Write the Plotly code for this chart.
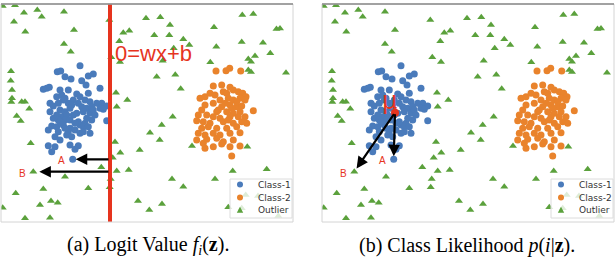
import plotly.graph_objects as go

# ---------------- data (panel coordinates, y grows downward) ----------------
class1_x = [80, 57.3, 60.7, 65, 71, 81.7, 88.3, 93.3, 86, 46.7, 49.3, 43.3, 60, 68.3, 100, 76.7, 80, 88.3,
            56.7, 61.7, 65, 73.3, 50, 53.3, 58.3, 68.3, 71.7, 85, 90, 96.7, 101.7, 106.7, 81.7, 86.7, 91.7,
            60, 65, 70, 100, 103.3, 50, 56.7, 61.7, 66.7, 73.3, 83.3, 90, 53.3, 58.3, 65, 78.3, 85, 91.7,
            106.7, 51.7, 56.7, 63.3, 70, 80, 83.3, 88.3, 48.3, 58.3, 68.3, 75, 80, 90, 55, 66.7, 71.7, 60,
            48.3, 55, 70, 78.3, 51.7, 75, 72.7,
            63.3, 78.3, 93.3, 76.7, 70, 75, 86.7, 60, 95, 65, 83.3]
class1_y = [65.7, 71.7, 71, 76.7, 79, 80.7, 76, 74, 85, 88.3, 87.3, 89.3, 90, 90, 88.3, 94, 96.7, 93.3,
            96.7, 95, 98.3, 100, 103.3, 106, 103.3, 103.3, 105, 100, 101.7, 103.3, 103.3, 106, 106.7, 108.3,
            106.7, 110, 111.7, 108.3, 108.3, 109.3, 111.7, 115, 116.7, 115, 115, 111.7, 113.3, 118.3, 120,
            120, 121.7, 123.3, 120, 120.7, 126, 126.7, 125, 128.3, 125, 126.7, 126.7, 130, 131.7, 131.7, 130,
            133.3, 133.3, 136.7, 135, 136.7, 140, 145.7, 146.7, 145, 145.7, 151.7, 149.3, 159.3,
            100, 103.3, 110, 113.3, 120, 123.3, 118.3, 121.7, 115, 128.3, 131.7]

class2_x = [216, 226, 229.7, 240.7, 221.7, 230, 213.3, 200, 205, 210, 215, 223.3, 226.7, 233.3, 238.3,
            242.7, 246, 220, 228.3, 233.3, 240, 245, 205, 213.3, 221.7, 230, 236.7, 241.7, 201.7, 216.7,
            226.7, 233.3, 240, 253.3, 198.3, 206.7, 213.3, 220, 230, 238.3, 245, 196.7, 203.3, 210, 223.3,
            233.3, 241.7, 246.7, 201.7, 208.3, 216.7, 226.7, 236.7, 198.3, 205, 213.3, 220, 230, 240, 196.7,
            206.7, 216.7, 223.3, 233.3, 205, 213.3, 221.7, 230, 240, 231.7, 203.3,
            225, 231.7, 218.3, 236.7, 228.3]
class2_y = [71, 70.7, 68.3, 71, 85, 87.3, 86, 98.3, 96.7, 93.3, 95, 91.7, 93.3, 90, 91.7, 93.3, 96.7,
            100, 98.3, 100, 98.3, 100, 105, 103.3, 106.7, 105, 106.7, 106, 110, 111.7, 111.7, 113.3, 111.7,
            110.7, 115, 115, 116.7, 118.3, 116.7, 116.7, 116.7, 120.7, 121.7, 123.3, 121.7, 123.3, 121.7,
            123.3, 128.3, 126.7, 128.3, 128.3, 126.7, 133.3, 135, 133.3, 135, 133.3, 132.7, 140, 139.3,
            138.3, 141.7, 140, 148.3, 146.7, 144, 146.7, 146, 156, 143.3,
            103.3, 108.3, 110, 101.7, 120]

outlier_x = [2.7, 15, 24, 37.3, 41.7, 64, 14, 25.3, 74, 64, 70.7, 11, 10.7, 12, 12, 11.3, 21.7, 25, 29.3,
             16.7, 20.7, 30.7, 33.3, 65, 43.3, 15.7, 88.3, 2.7, 51, 57.7, 40, 25, 50,
             109.3, 146, 160.3, 170, 123.3, 129.3, 154.3, 169.3, 183.3, 189.3, 119.3, 173.7, 111.3, 120,
             162.7, 156.7, 175.3, 180.7, 116, 127.3, 116.7,
             172.7, 161.7, 150, 115, 159.7, 192, 120.3, 139.7, 112.7, 101.3, 116.7, 128.7, 110.7, 172,
             109.7, 183.3, 138, 162, 149.3,
             242.3, 253.3, 214, 276.5, 280, 241.7, 263, 216.3, 270.3, 255, 248.3, 251, 210.3, 248.3, 251,
             286, 247.3, 232.7, 266.7, 215, 228.3, 241.7, 278.3, 245.7, 258]
outlier_y = [6, 5.3, 12.7, 10, 16.7, 11.7, 21.7, 31.7, 30, 44, 51.7, 71.3, 80.7, 90, 98.3, 102, 101.7,
             101.7, 108.7, 116, 121, 143.3, 171.7, 176.7, 189, 193.3, 188.3, 207.7, 201, 202.7, 205, 218.3,
             217.7,
             20, 18.3, 17.3, 25, 32.7, 30.7, 35.3, 35.3, 39.3, 45, 41.3, 48.3, 57.3, 62, 60.7, 76.7, 74.7,
             88.7, 92.7, 100, 106.7,
             116.7, 125, 132.7, 142, 140, 146, 152.7, 150, 157.7, 167.3, 171, 170, 179, 179, 187.3, 186.7,
             201, 204, 210,
             15, 14, 27.3, 29, 28.5, 42, 42.7, 46.7, 53.3, 56, 59, 61.7, 62.3, 70, 72, 72.7, 146.7, 171,
             169.3, 179, 207.3, 208.3, 216, 195, 196]

boundary_x = 110          # decision boundary 0 = wx + b (panel a)
mu_point = (74, 112.7)    # class-1 mean (panel b)
point_A = (72.7, 159.3)   # class-1 sample A
point_B = (33.3, 171.7)   # outlier sample B

series_names = ["Class-1", "Class-2", "Outlier"]
captions = ["(a) Logit Value <i>f</i><sub><i>i</i></sub>(<b>z</b>).",
            "(b) Class Likelihood <i>p</i>(<i>i</i>|<b>z</b>)."]

# ---------------- styling ----------------
W, H = 616, 270
BLUE, ORANGE, GREEN = "#4a7bbb", "#e9832c", "#5ba13c"
RED = "#e6341e"
X_RANGE = [1, 293]
Y_RANGE = [222, 4]
PANELS = [(1, 293), (322, 614)]   # pixel left/right of each panel
TOP, BOTTOM = 4, 222


def px(x):
    return x / W


def py(y):
    return 1 - y / H


fig = go.Figure()

for i, (l, r) in enumerate(PANELS):
    xa = "x" if i == 0 else "x2"
    ya = "y" if i == 0 else "y2"
    fig.add_trace(go.Scatter(x=outlier_x, y=outlier_y, mode="markers", xaxis=xa, yaxis=ya,
                             marker=dict(symbol="triangle-up", size=7, color=GREEN, line=dict(width=0)),
                             name=series_names[2], showlegend=False))
    fig.add_trace(go.Scatter(x=class1_x, y=class1_y, mode="markers", xaxis=xa, yaxis=ya,
                             marker=dict(symbol="circle", size=7, color=BLUE, line=dict(width=0)),
                             name=series_names[0], showlegend=False))
    fig.add_trace(go.Scatter(x=class2_x, y=class2_y, mode="markers", xaxis=xa, yaxis=ya,
                             marker=dict(symbol="circle", size=7, color=ORANGE, line=dict(width=0)),
                             name=series_names[1], showlegend=False))

axis_common = dict(visible=False, showgrid=False, zeroline=False, fixedrange=True)
fig.update_layout(
    xaxis=dict(domain=[px(PANELS[0][0]), px(PANELS[0][1])], range=X_RANGE, **axis_common),
    yaxis=dict(domain=[py(BOTTOM), py(TOP)], range=Y_RANGE, **axis_common),
    xaxis2=dict(domain=[px(PANELS[1][0]), px(PANELS[1][1])], range=X_RANGE, anchor="y2", **axis_common),
    yaxis2=dict(domain=[py(BOTTOM), py(TOP)], range=Y_RANGE, anchor="x2", **axis_common),
)

shapes = []
annotations = []

# decision boundary in panel a
shapes.append(dict(type="line", xref="x", yref="y", x0=boundary_x, x1=boundary_x, y0=TOP, y1=BOTTOM,
                   line=dict(color=RED, width=4), layer="above"))

# arrows panel a: from boundary to A and B
for pt, so in [(point_A, 3), (point_B, 6)]:
    annotations.append(dict(xref="x", yref="y", axref="x", ayref="y", x=pt[0], y=pt[1],
                            ax=boundary_x, ay=pt[1], text="", showarrow=True, arrowhead=2,
                            arrowsize=1.05, arrowwidth=2.2, arrowcolor="black", standoff=so))
# arrows panel b: from mu to A and B
for pt, so in [(point_A, 3), (point_B, 4)]:
    annotations.append(dict(xref="x2", yref="y2", axref="x2", ayref="y2", x=pt[0], y=pt[1],
                            ax=mu_point[0], ay=mu_point[1], text="", showarrow=True, arrowhead=2,
                            arrowsize=1.05, arrowwidth=2.2, arrowcolor="black", standoff=so))

# mu dot
fig.add_trace(go.Scatter(x=[mu_point[0]], y=[mu_point[1]], mode="markers", xaxis="x2", yaxis="y2",
                         marker=dict(size=8, color=RED), showlegend=False))

# labels
annotations.append(dict(xref="x", yref="y", x=113, y=53.5, text="0=wx+b", showarrow=False,
                        xanchor="left", yanchor="middle",
                        font=dict(family="Liberation Sans", size=22, color=RED)))
for xa, ya in [("x", "y"), ("x2", "y2")]:
    annotations.append(dict(xref=xa, yref=ya, x=point_A[0] - 11, y=point_A[1] + 1, text="A",
                            showarrow=False, font=dict(family="Liberation Sans", size=10, color=RED)))
    annotations.append(dict(xref=xa, yref=ya, x=point_B[0] - 10.5, y=point_B[1] + 1.5, text="B",
                            showarrow=False, font=dict(family="Liberation Sans", size=10, color=RED)))
annotations.append(dict(xref="x2", yref="y2", x=mu_point[0] - 6, y=mu_point[1] - 12, text="μ",
                        showarrow=False, font=dict(family="DejaVu Sans", size=24, color=RED)))

# frames
for (l, r) in PANELS:
    shapes.append(dict(type="rect", xref="paper", yref="paper", x0=px(l), x1=px(r), y0=py(BOTTOM),
                       y1=py(TOP), line=dict(color="#d4d4d4", width=1), layer="above"))
    shapes.append(dict(type="line", xref="paper", yref="paper", x0=px(l), x1=px(r), y0=py(TOP),
                       y1=py(TOP), line=dict(color="#8a8a8a", width=1.5), layer="above"))

# manual legends (bottom-right of each panel)
for i, (l, r) in enumerate(PANELS):
    bx0, bx1 = l + 229, r - 1
    by0, by1 = 179, 218
    shapes.append(dict(type="rect", xref="paper", yref="paper", x0=px(bx0), x1=px(bx1), y0=py(by1),
                       y1=py(by0), fillcolor="rgba(255,255,255,0.8)",
                       line=dict(color="#dcdcdc", width=1), layer="above"))
    rows = [184.5, 197.5, 210]
    mx = bx0 + 10
    for k, (name, col) in enumerate(zip(series_names, [BLUE, ORANGE, GREEN])):
        yy = rows[k]
        if k < 2:
            shapes.append(dict(type="circle", xref="paper", yref="paper", x0=px(mx - 3), x1=px(mx + 3),
                               y0=py(yy + 3), y1=py(yy - 3), fillcolor=col, line=dict(width=0),
                               layer="above"))
        else:
            path = "M %f %f L %f %f L %f %f Z" % (px(mx - 3.2), py(yy + 2.8), px(mx + 3.2), py(yy + 2.8),
                                                  px(mx), py(yy - 3.2))
            shapes.append(dict(type="path", xref="paper", yref="paper", path=path, fillcolor=col,
                               line=dict(width=0), layer="above"))
        annotations.append(dict(xref="paper", yref="paper", x=px(bx0 + 26), y=py(yy), text=name,
                                showarrow=False, xanchor="left", yanchor="middle",
                                font=dict(family="DejaVu Sans", size=9, color="#333333")))

# captions
for cx, txt in zip([147.5, 467], captions):
    annotations.append(dict(xref="paper", yref="paper", x=px(cx), y=py(245), text=txt, showarrow=False,
                            xanchor="center", yanchor="middle",
                            font=dict(family="Liberation Serif", size=20, color="black")))

fig.update_layout(width=W, height=H, margin=dict(l=0, r=0, t=0, b=0), paper_bgcolor="white",
                  plot_bgcolor="white", shapes=shapes, annotations=annotations, showlegend=False)

fig.write_html("out.html", config={"displayModeBar": False},
               post_script="document.body.style.margin='0';")
